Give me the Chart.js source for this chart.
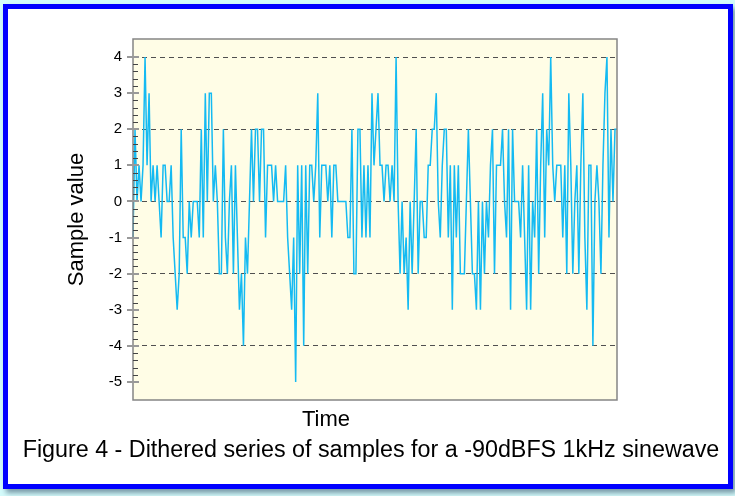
<!DOCTYPE html>
<html lang="en">
<head>
<meta charset="UTF-8">
<title>Dithered samples</title>
<script src="https://cdn.jsdelivr.net/npm/chart.js"></script>
<style>
    html, body { margin: 0; padding: 0; }
    body { width: 735px; height: 496px; background: #d4fbfb; position: relative; overflow: hidden;
           font-family: "Liberation Sans", Arial, sans-serif; }
    #frame { position: absolute; left: 3px; top: 4px; width: 720px; height: 475px;
             border: 5px solid #0000ff; background: #ffffff; box-shadow: 3px 4px 5px #7a9aa8; }
    #wrap { position: absolute; left: 0; top: 0; width: 735px; height: 496px; }
    #time { position: absolute; left: 276px; width: 100px; top: 406px; text-align: center; font-size: 22px; }
    #caption { position: absolute; left: 0; width: 742px; top: 436px; text-align: center; font-size: 23.3px; }
</style>
</head>
<body>
<div id="frame"></div>
<div id="wrap"><canvas id="chart" width="735" height="496"></canvas></div>
<div id="time">Time</div>
<div id="caption">Figure 4 - Dithered series of samples for a -90dBFS 1kHz sinewave</div>
<script>
// sample values, left to right
const samples = [
    -1, 2, 0, 1, 0, 1, 4, 1, 3, 0, 1, 0, 1, 0, -1, 1, 1, 0, 0, 1,
    -1, -2, -3, -2, 2, -1, -1, -2, 0, -1, 0, 0, 0, -1, 2, -1, 3, 0, 3, 3,
    0, 1, 0, -2, -2, 2, -1, -2, 0, 1, -2, 1, -1, -3, -2, -4, -1, -2, 0, 2,
    0, 2, 2, 0, 2, 2, -1, 1, 1, 1, 0, 1, 0, 0, 0, 0, 1, -1, -2, -3,
    -1, -5, 1, -2, 1, -4, 1, -2, 1, 1, 0, 1, 3, -1, 1, 1, 1, 0, 1, -1,
    1, 1, 0, 0, 0, 0, 0, -1, -1, 2, -2, -2, 2, 2, -1, 1, -1, 1, -1, 3,
    1, 2, 3, 1, 1, 0, 1, 1, 0, 1, 0, 4, 0, -2, 0, -2, -1, -3, 0, -2,
    0, 2, -2, 0, 0, -1, -1, 1, 1, 2, 2, 3, 0, -1, 1, 2, 2, -1, 1, -3,
    1, -1, 1, -2, -2, -2, 0, 2, 0, -2, -2, -3, 0, -3, 0, -2, 0, -1, 1, 2,
    -2, 1, 1, 1, 2, 0, -1, 2, -3, 2, 0, 0, 0, -1, 1, -1, -3, 1, -3, 0,
    -1, 2, -2, 1, 3, -1, 2, 1, 4, 1, 0, 1, 1, 1, -1, 1, -2, 3, 1, -2,
    0, 1, -2, 1, 3, -1, -3, 1, 1, -4, 0, 1, 0, -2, 1, 3, 4, -1, 2, 0,
    2, 2
];
const sampleIndex = samples.map((v, i) => i + 1);
const yLabels = [-5, -4, -3, -2, -1, 0, 1, 2, 3, 4];
const dashedLevels = [4, 2, 0, -2, -4];
const minorStep = 0.2;

const plotBackground = {
    id: 'plotBackground',
    beforeDraw(chart) {
        const a = chart.chartArea, ctx = chart.ctx;
        ctx.save();
        ctx.fillStyle = '#fffde6';
        ctx.fillRect(a.left, a.top, a.right - a.left, a.bottom - a.top);
        ctx.restore();
    },
    afterDraw(chart) {
        const a = chart.chartArea, ctx = chart.ctx, y = chart.scales.y;
        ctx.save();
        ctx.strokeStyle = '#858585';
        ctx.lineWidth = 1.5;
        ctx.strokeRect(a.left, a.top, a.right - a.left, a.bottom - a.top);
        // minor tick marks
        ctx.lineWidth = 1;
        ctx.strokeStyle = '#444';
        for (let k = 0; k <= 45; k++) {
            const v = -5 + k * minorStep;
            if (Math.abs(v - Math.round(v)) < 1e-6) continue;
            const py = Math.round(y.getPixelForValue(v)) + 0.5;
            ctx.beginPath();
            ctx.moveTo(a.left, py);
            ctx.lineTo(a.left + 5, py);
            ctx.stroke();
        }
        // major tick marks
        ctx.strokeStyle = '#999';
        ctx.lineWidth = 2;
        yLabels.forEach(v => {
            const py = Math.round(y.getPixelForValue(v));
            ctx.beginPath();
            ctx.moveTo(a.left - 6, py);
            ctx.lineTo(a.left + 6, py);
            ctx.stroke();
        });
        ctx.restore();
    }
};

new Chart(document.getElementById('chart').getContext('2d'), {
    type: 'line',
    data: {
        labels: sampleIndex,
        datasets: [{
            data: samples,
            borderColor: '#14baf2',
            borderWidth: 1.5,
            pointRadius: 0,
            tension: 0,
            fill: false
        }]
    },
    options: {
        responsive: false,
        animation: false,
        layout: { padding: { left: 0, top: 39, right: 118, bottom: 96 } },
        plugins: { legend: { display: false }, tooltip: { enabled: false } },
        scales: {
            x: { display: false },
            y: {
                min: -5.5,
                max: 4.5,
                afterBuildTicks: scale => { scale.ticks = yLabels.map(v => ({ value: v })); },
                afterFit: scale => { scale.width = 133; },
                ticks: {
                    color: '#000',
                    padding: 11,
                    font: { family: 'Liberation Sans', size: 15 },
                    callback: v => String(v)
                },
                grid: {
                    drawTicks: false,
                    lineWidth: 1,
                    color: ctx => dashedLevels.includes(ctx.tick.value) ? '#505050' : 'rgba(0,0,0,0)'
                },
                border: { display: false, dash: [5, 4] },
                title: {
                    display: true,
                    text: 'Sample value',
                    color: '#000',
                    font: { family: 'Liberation Sans', size: 22 },
                    padding: { top: 64, bottom: 0 }
                }
            }
        }
    },
    plugins: [plotBackground]
});
</script>
</body>
</html>
